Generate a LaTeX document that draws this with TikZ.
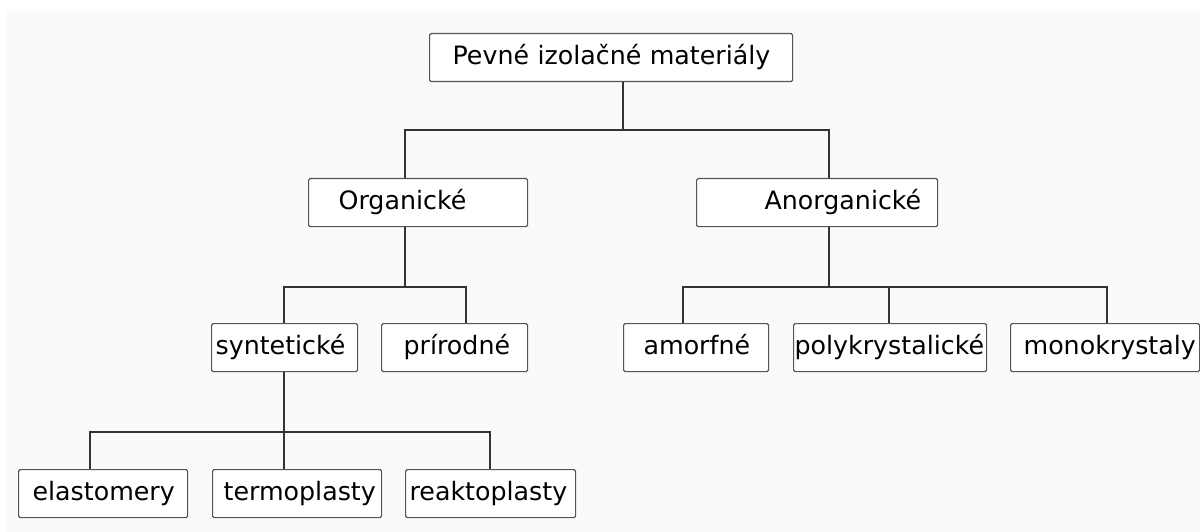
\documentclass[tikz,border=0pt]{standalone}
\usepackage{fontspec}
\setmainfont{DejaVu Sans}
\definecolor{panel}{HTML}{FAFAFA}
\definecolor{linec}{HTML}{333333}
\definecolor{boxc}{HTML}{555555}
\tikzset{
  box/.style={draw=boxc, line width=1.2pt, fill=white, rounded corners=1.5pt,
    inner xsep=0pt, inner ysep=0pt, text height=31pt, text depth=17pt,
    align=left, anchor=north west, font=\fontsize{25.3}{30}\selectfont},
  conn/.style={draw=linec, line width=1.5pt}
}
\begin{document}
\begin{tikzpicture}[x=1pt,y=-1pt]
\useasboundingbox (0,0) rectangle (1200,532);
\fill[white] (0,0) rectangle (1200,532);
\fill[panel] (7,9) rectangle (1200,532);

% boxes
\node[box, text width=363pt] (top) at (429,33) {\hspace*{23pt}Pevné izolačné materiály};
\node[box, text width=219pt] (org) at (308,178) {\hspace*{30pt}Organické};
\node[box, text width=241pt] (anorg) at (696,178) {\hspace*{68pt}Anorganické};
\node[box, text width=146pt] (syn) at (211,323) {\hspace*{4pt}syntetické};
\node[box, text width=146pt] (pri) at (381,323) {\hspace*{22pt}prírodné};
\node[box, text width=145pt] (amo) at (623,323) {\hspace*{20pt}amorfné};
\node[box, text width=193pt] (poly) at (793,323) {\hspace*{1pt}polykrystalické};
\node[box, text width=189pt] (mono) at (1010,323) {\hspace*{13pt}monokrystaly};
\node[box, text width=169pt] (ela) at (18,469) {\hspace*{14pt}elastomery};
\node[box, text width=169pt] (term) at (212,469) {\hspace*{11pt}termoplasty};
\node[box, text width=170pt] (rea) at (405,469) {\hspace*{4pt}reaktoplasty};

% junction coordinates
\coordinate (j1) at (623,130);
\coordinate (o1) at (405,0);
\coordinate (o2) at (829,0);
\coordinate (j2) at (405,287);
\coordinate (s1) at (284,0);
\coordinate (s2) at (466,0);
\coordinate (j3) at (829,287);
\coordinate (a1) at (683,0);
\coordinate (a2) at (889,0);
\coordinate (a3) at (1107,0);
\coordinate (j4) at (284,432);
\coordinate (e1) at (90,0);
\coordinate (e3) at (490,0);

% connectors
\draw[conn] (top.south -| j1) -- (j1);
\draw[conn] (org.north -| o1) |- (j1) -| (anorg.north -| o2);

\draw[conn] (org.south -| j2) -- (j2);
\draw[conn] (syn.north -| s1) |- (j2) -| (pri.north -| s2);

\draw[conn] (anorg.south -| j3) -- (j3);
\draw[conn] (amo.north -| a1) |- (j3) -| (mono.north -| a3);
\draw[conn] (poly.north -| a2) -- (j3 -| a2);

\draw[conn] (syn.south -| j4) -- (term.north -| j4);
\draw[conn] (ela.north -| e1) |- (j4) -| (rea.north -| e3);
\end{tikzpicture}
\end{document}
